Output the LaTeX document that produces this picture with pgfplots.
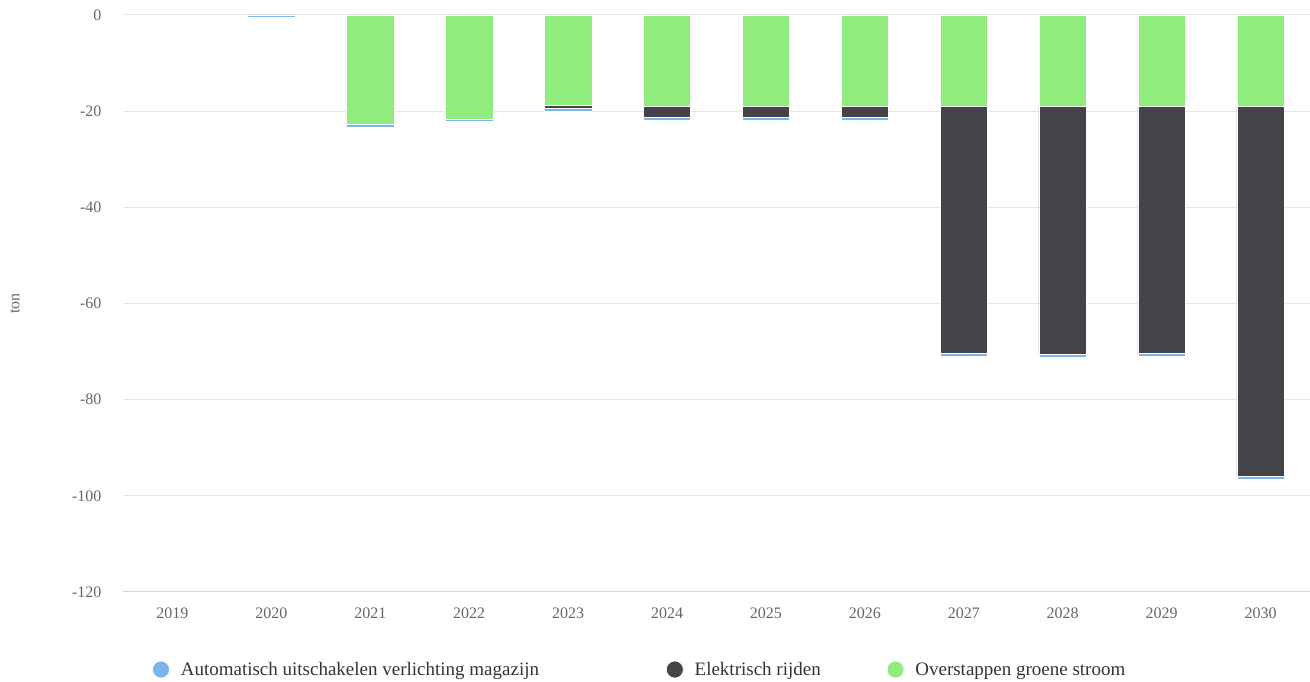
\documentclass[border=0pt]{standalone}
\usepackage{pgfplots}
\pgfplotsset{compat=1.18}
\usepackage{fontspec}
\setmainfont{Liberation Serif}
\definecolor{hcblue}{HTML}{7CB5EC}
\definecolor{hcdark}{HTML}{434348}
\definecolor{hcgreen}{HTML}{90ED7D}
\definecolor{gridgray}{HTML}{E6E6E6}
\definecolor{axisline}{HTML}{CCD6EB}
\definecolor{ticktext}{HTML}{666666}
\definecolor{legtext}{HTML}{333333}
\begin{document}
\begin{tikzpicture}
\path[use as bounding box] (0,0) rectangle (1310pt,682pt);
\begin{axis}[
  at={(123pt,90pt)}, anchor=south west,
  scale only axis, width=1187pt, height=577pt,
  ybar stacked, bar width=0.48,
  xmin=-0.5, xmax=11.5, ymin=-120, ymax=0,
  xtick=data,
  xticklabels={2019,2020,2021,2022,2023,2024,2025,2026,2027,2028,2029,2030},
  ytick={-120,-100,-80,-60,-40,-20,0},
  axis line style={draw=none},
  axis x line*=bottom, axis y line*=left,
  ymajorgrids, grid style={gridgray, line width=1pt},
  major tick length=0pt,
  tick label style={font=\fontsize{16}{18}\selectfont, text=ticktext},
  /pgf/number format/assume math mode=true,
  yticklabel style={xshift=-18pt},
  xticklabel style={yshift=-12pt},
  ylabel={ton},
  every axis y label/.style={at={(axis description cs:-0.091,0.5)}, rotate=90, anchor=center,
    font=\fontsize{16}{18}\selectfont, text=ticktext},
  legend columns=3,
  reverse legend,
  legend style={at={(rel axis cs:0,0)}, anchor=north west, xshift=26pt, yshift=-66pt,
    draw=none, fill=none, font=\fontsize{19}{21}\selectfont, text=legtext,
    /tikz/column 1/.style={column sep=9pt},
    /tikz/column 3/.style={column sep=9pt},
    /tikz/column 5/.style={column sep=9pt},
    /tikz/column 2/.style={column sep=125pt},
    /tikz/column 4/.style={column sep=64pt}},
  legend image code/.code={\fill (0.3em,0) circle (8.5pt);},
  every axis plot/.append style={draw=white, line width=0.6pt},
]
\draw[axisline, line width=1.2pt] (rel axis cs:0,0) -- (rel axis cs:1,0);
\addplot[fill=hcgreen] coordinates {(0,0) (1,0) (2,-22.8) (3,-21.7) (4,-18.7) (5,-19) (6,-19) (7,-19) (8,-19) (9,-19) (10,-19) (11,-19)};
\addlegendentry{Overstappen groene stroom}
\addplot[fill=hcdark] coordinates {(0,0) (1,0) (2,0) (3,0) (4,-0.8) (5,-2.3) (6,-2.3) (7,-2.3) (8,-51.4) (9,-51.6) (10,-51.4) (11,-77)};
\addlegendentry{Elektrisch rijden}
\addplot[fill=hcblue] coordinates {(0,0) (1,-0.4) (2,-0.5) (3,-0.5) (4,-0.5) (5,-0.5) (6,-0.5) (7,-0.5) (8,-0.6) (9,-0.6) (10,-0.6) (11,-0.6)};
\addlegendentry{Automatisch uitschakelen verlichting magazijn}
\end{axis}
\end{tikzpicture}
\end{document}
